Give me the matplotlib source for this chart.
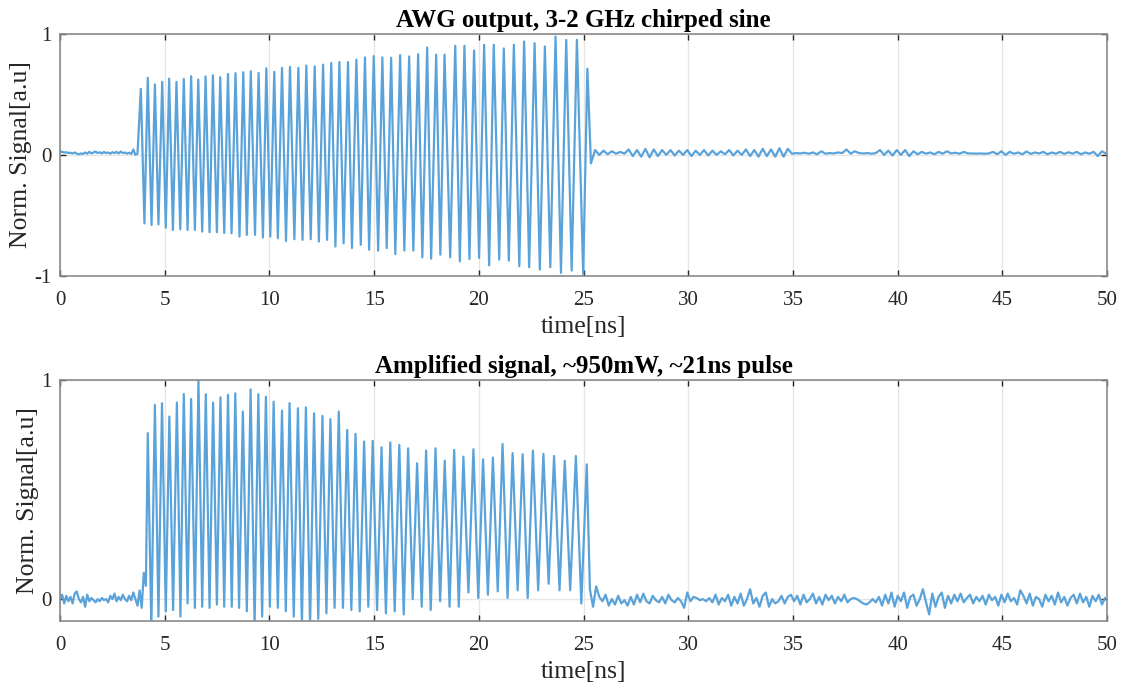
import numpy as np
import matplotlib
matplotlib.use("Agg")
import matplotlib.pyplot as plt

# ---------------- text ----------------
top_title = "AWG output, 3-2 GHz chirped sine"
bot_title = "Amplified signal, ~950mW, ~21ns pulse"
xlabel = "time[ns]"
ylabel = "Norm. Signal[a.u]"
xticks = [0, 5, 10, 15, 20, 25, 30, 35, 40, 45, 50]
top_yticks = [-1, 0, 1]
bot_yticks = [0, 1]

# ---------------- data: top panel (AWG output) ----------------
top_peak_t = [3.86, 4.19, 4.53, 4.88, 5.21, 5.56, 5.91, 6.26, 6.60, 6.95,
              7.30, 7.65, 8.02, 8.38, 8.75, 9.11, 9.48, 9.85, 10.23, 10.60,
              10.98, 11.38, 11.76, 12.16, 12.56, 12.95, 13.34, 13.75, 14.15, 14.56,
              14.98, 15.39, 15.81, 16.24, 16.67, 17.10, 17.53, 17.96, 18.36, 18.87,
              19.31, 19.77, 20.25, 20.71, 21.19, 21.67, 22.16, 22.66, 23.15, 23.66,
              24.17, 24.68, 25.18]
top_peak_v = [0.546, 0.637, 0.582, 0.604, 0.631, 0.604, 0.628, 0.650, 0.623, 0.648,
              0.658, 0.642, 0.669, 0.675, 0.683, 0.691, 0.678, 0.716, 0.686, 0.719,
              0.727, 0.719, 0.738, 0.732, 0.746, 0.760, 0.768, 0.768, 0.787, 0.806,
              0.817, 0.806, 0.803, 0.825, 0.814, 0.833, 0.888, 0.828, 0.828, 0.902,
              0.902, 0.863, 0.910, 0.910, 0.880, 0.910, 0.937, 0.923, 0.896, 0.978,
              0.951, 0.951, 0.713]
top_trough_t = [4.03, 4.37, 4.70, 5.05, 5.39, 5.74, 6.09, 6.44, 6.79, 7.14,
                7.49, 7.84, 8.19, 8.57, 8.92, 9.31, 9.69, 10.04, 10.40, 10.79,
                11.19, 11.58, 11.97, 12.36, 12.75, 13.15, 13.54, 13.94, 14.36, 14.76,
                15.19, 15.60, 16.01, 16.44, 16.87, 17.30, 17.72, 18.16, 18.63, 19.09,
                19.55, 20.01, 20.49, 20.97, 21.43, 21.93, 22.40, 22.91, 23.41, 23.92,
                24.43, 24.98]
top_trough_v = [-0.566, -0.579, -0.574, -0.601, -0.620, -0.615, -0.620, -0.620, -0.634, -0.639,
                -0.639, -0.645, -0.648, -0.675, -0.661, -0.661, -0.683, -0.675, -0.689, -0.712,
                -0.697, -0.702, -0.697, -0.716, -0.702, -0.757, -0.730, -0.770, -0.743, -0.784,
                -0.792, -0.770, -0.820, -0.790, -0.790, -0.847, -0.858, -0.825, -0.847, -0.880,
                -0.860, -0.852, -0.913, -0.866, -0.874, -0.920, -0.929, -0.948, -0.929, -0.975,
                -0.956, -0.984]
# baseline before the pulse: start 0 ns, step 0.1 ns
top_pre_start, top_pre_step = 0.0, 0.1
top_pre_v = [0.030, 0.025, 0.020, 0.022, 0.015, 0.018, 0.012, 0.020, 0.010, 0.005,
             0.012, 0.008, 0.020, 0.010, 0.025, 0.012, 0.020, 0.028, 0.015, 0.022,
             0.012, 0.025, 0.015, 0.020, 0.010, 0.022, 0.015, 0.025, 0.012, 0.028,
             0.015, 0.020, 0.010, 0.018, 0.008, 0.045, 0.000, 0.010]
# ringing after the pulse: start 25.35 ns, step 0.2 ns
top_post_start, top_post_step = 25.35, 0.2
top_post_v = [-0.070, 0.040, 0.000, 0.035, 0.005, 0.030, 0.010, 0.025, 0.010,
              0.045, -0.010, 0.040, -0.015, 0.050, -0.020, 0.045, -0.010, 0.040, 0.000,
              0.040, -0.005, 0.035, 0.000, 0.040,
              -0.010, 0.035, 0.000, 0.040, -0.005, 0.035, 0.000, 0.030, 0.005, 0.040,
              -0.005, 0.035, 0.000,
              0.045, -0.010, 0.040, -0.015, 0.050, -0.010, 0.045, -0.015, 0.055, -0.015,
              0.050, 0.010,
              0.015, 0.012, 0.018, 0.010, 0.020, 0.005, 0.030, 0.010, 0.015, 0.012,
              0.020, 0.015, 0.045, 0.010,
              0.030, 0.015, 0.012, 0.015, 0.010, 0.015,
              0.040, 0.000, 0.035, -0.005, 0.040, 0.000, 0.040, -0.010, 0.030, 0.005,
              0.025, 0.010, 0.020, 0.005, 0.025, 0.010, 0.030, 0.012, 0.018, 0.010,
              0.025, 0.012,
              0.012, 0.010, 0.012, 0.010, 0.012,
              0.025, 0.005, 0.030, 0.000, 0.025, 0.010, 0.020, 0.005, 0.028, 0.008,
              0.020, 0.012, 0.025, 0.005, 0.020, 0.010, 0.025, 0.008, 0.022, 0.010,
              0.025, 0.005, 0.020, 0.010, 0.025, -0.010, 0.030, 0.010]

# ---------------- data: bottom panel (amplified signal) ----------------
bot_peak_t = [4.19, 4.53, 4.87, 5.22, 5.58, 5.91, 6.26, 6.61, 6.96, 7.31,
              7.66, 8.02, 8.37, 8.73, 9.10, 9.47, 9.83, 10.20, 10.60, 10.96,
              11.36, 11.74, 12.13, 12.53, 12.91, 13.31, 13.71, 14.11, 14.52, 14.93,
              15.35, 15.77, 16.20, 16.62, 17.05, 17.48, 17.93, 18.37, 18.82, 19.26,
              19.74, 20.20, 20.67, 21.13, 21.61, 22.09, 22.58, 23.08, 23.59, 24.10,
              24.63, 25.15]
bot_peak_v = [0.757, 0.886, 0.894, 0.833, 0.897, 0.936, 0.913, 0.997, 0.935, 0.897,
              0.921, 0.932, 0.939, 0.856, 0.957, 0.935, 0.924, 0.901, 0.860, 0.894,
              0.871, 0.875, 0.848, 0.836, 0.821, 0.856, 0.772, 0.754, 0.719, 0.722,
              0.693, 0.715, 0.704, 0.688, 0.620, 0.678, 0.688, 0.632, 0.681, 0.650,
              0.684, 0.638, 0.646, 0.708, 0.666, 0.661, 0.678, 0.663, 0.653, 0.631,
              0.653, 0.615]
bot_trough_t = [4.36, 4.70, 5.05, 5.40, 5.75, 6.09, 6.44, 6.79, 7.14, 7.49,
                7.84, 8.20, 8.55, 8.92, 9.29, 9.65, 10.02, 10.40, 10.78, 11.16,
                11.55, 11.94, 12.33, 12.72, 13.11, 13.51, 13.91, 14.31, 14.72, 15.14,
                15.56, 15.98, 16.41, 16.84, 17.27, 17.70, 18.15, 18.60, 19.04, 19.50,
                19.97, 20.43, 20.90, 21.37, 21.85, 22.33, 22.83, 23.33, 23.85, 24.36,
                24.89]
bot_trough_v = [-0.130, -0.080, -0.056, -0.050, -0.080, -0.020, -0.040, -0.035, -0.040, -0.025,
                -0.035, -0.035, -0.040, -0.056, -0.120, -0.080, -0.035, -0.040, -0.056, -0.080,
                -0.120, -0.120, -0.090, -0.065, -0.040, -0.040, -0.050, -0.056, -0.035, -0.050,
                -0.065, -0.056, -0.070, 0.000, -0.035, -0.050, -0.010, -0.035, -0.035, 0.030,
                0.005, 0.020, 0.035, 0.005, 0.040, 0.005, 0.040, 0.070, 0.040, 0.040,
                -0.020]
bot_pre_start, bot_pre_step = 0.0, 0.1
bot_pre_v = [0.000, 0.020, -0.020, 0.015, -0.010, 0.010, -0.020, 0.025, 0.035, 0.000,
             -0.015, 0.010, -0.035, 0.020, -0.010, 0.005, -0.005, -0.015, 0.000, -0.010,
             0.005, -0.005, 0.000, -0.015, 0.015, 0.000, 0.025, -0.010, 0.010, -0.005,
             0.020, 0.000, -0.010, 0.015, -0.005, 0.030, 0.000, -0.030, 0.040, -0.040,
             0.120, 0.060]
bot_post_start, bot_post_step = 25.30, 0.15
bot_post_v = [0.045, -0.035, 0.058, 0.010, -0.010, 0.020, -0.030, 0.000, -0.025, 0.015,
              -0.020, -0.005, -0.030, 0.010, -0.025, 0.020, -0.015, 0.025, -0.010, -0.020,
              0.015, -0.005, -0.015, 0.010, -0.020, 0.020, -0.005, -0.015, 0.005, -0.010,
              -0.040, 0.030, -0.010, 0.010, 0.005, -0.005, 0.000, -0.010, 0.005, -0.015,
              0.020, -0.025, 0.005, -0.010, 0.020, -0.030, 0.010, -0.020, 0.025, -0.030,
              0.000, 0.045, -0.020, 0.005, -0.035, 0.015, 0.030, -0.035, 0.000, -0.020,
              -0.010, 0.015, -0.020, 0.010, 0.020, -0.010, 0.015, -0.025, 0.020, -0.015,
              0.000, 0.025, -0.020, 0.010, -0.025, 0.020, -0.005, 0.015, -0.020, 0.010,
              -0.010, 0.020, -0.015, 0.000, 0.005, 0.000, -0.010, -0.020, -0.025, -0.015,
              0.000, -0.015, 0.010, -0.030, 0.020, -0.020, 0.030, -0.035, 0.015, -0.010,
              0.030, -0.040, 0.010, 0.020, -0.030, 0.000, 0.045, -0.015, -0.070, 0.025,
              -0.035, 0.010, 0.030, -0.040, 0.015, -0.020, 0.020, -0.010, 0.025, -0.015,
              0.005, 0.020, -0.020, 0.010, -0.010, 0.015, -0.025, 0.020, -0.005, 0.010,
              -0.030, 0.020, -0.015, 0.025, -0.010, 0.005, -0.025, 0.040, 0.015, -0.020,
              0.025, -0.030, 0.010, 0.000, -0.035, 0.020, -0.010, 0.015, -0.025, 0.030,
              -0.015, 0.010, -0.030, 0.005, 0.020, -0.020, 0.025, -0.015, 0.010, -0.035,
              0.015, -0.010, 0.020, -0.025, 0.005]


def assemble(pre_start, pre_step, pre_v, pk_t, pk_v, tr_t, tr_v, post_start, post_step, post_v):
    t = list(pre_start + pre_step * np.arange(len(pre_v)))
    v = list(pre_v)
    t += list(pk_t) + list(tr_t)
    v += list(pk_v) + list(tr_v)
    t += list(post_start + post_step * np.arange(len(post_v)))
    v += list(post_v)
    t = np.array(t)
    v = np.array(v)
    order = np.argsort(t, kind="stable")
    return t[order], v[order]


t_top, v_top = assemble(top_pre_start, top_pre_step, top_pre_v, top_peak_t, top_peak_v,
                        top_trough_t, top_trough_v, top_post_start, top_post_step, top_post_v)
t_bot, v_bot = assemble(bot_pre_start, bot_pre_step, bot_pre_v, bot_peak_t, bot_peak_v,
                        bot_trough_t, bot_trough_v, bot_post_start, bot_post_step, bot_post_v)

# ---------------- styling ----------------
serif = ["Liberation Serif", "DejaVu Serif"]
plt.rcParams["font.family"] = serif
line_color = "#5aa3da"
tick_color = "#262626"
spine_color = "#8a8a8a"
grid_color = "#e6e6e6"

fig = plt.figure(figsize=(11.26, 6.88), dpi=100)
ax1 = fig.add_axes([0.0533, 0.599, 0.930, 0.3517])
ax2 = fig.add_axes([0.0533, 0.0974, 0.930, 0.3503])


def style(ax, title, yticks, ylim):
    ax.set_xlim(0, 50)
    ax.set_ylim(*ylim)
    ax.set_xticks(xticks)
    ax.set_xticklabels([str(x) for x in xticks])
    ax.set_yticks(yticks)
    ax.set_yticklabels([str(y) for y in yticks])
    ax.grid(True, color=grid_color, linewidth=1.0)
    ax.set_axisbelow(True)
    ax.tick_params(direction="in", length=4, width=1, colors=tick_color,
                   labelsize=15, top=True, right=True)
    ax.tick_params(axis="x", pad=11)
    ax.tick_params(axis="y", pad=6)
    for s in ax.spines.values():
        s.set_color(spine_color)
        s.set_linewidth(1.2)
    ax.set_title(title, fontsize=18, fontweight="bold", color="black", pad=5)
    ax.set_xlabel(xlabel, fontsize=18.5, color=tick_color, labelpad=4)
    ax.set_ylabel(ylabel, fontsize=18.5, color=tick_color, labelpad=2)


ax1.plot(t_top, v_top, color=line_color, linewidth=1.6)
ax2.plot(t_bot, v_bot, color=line_color, linewidth=1.6)
style(ax1, top_title, top_yticks, (-1, 1))
style(ax2, bot_title, bot_yticks, (-0.1, 1))

fig.savefig("out.png", dpi=100)
